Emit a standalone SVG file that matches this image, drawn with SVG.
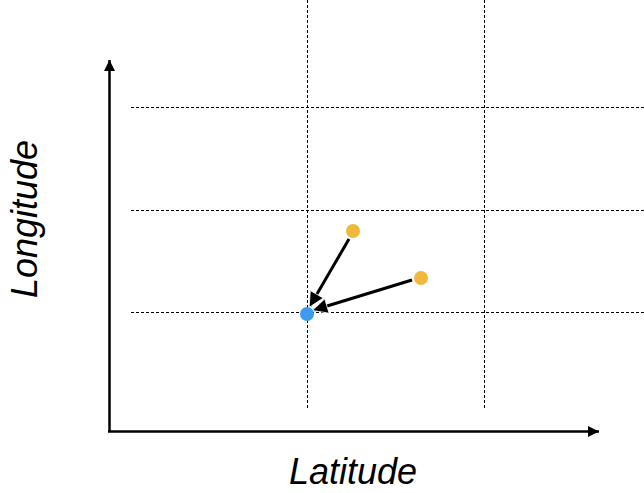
<svg xmlns="http://www.w3.org/2000/svg" width="644" height="493" viewBox="0 0 644 493">
<style>
.grid{stroke:#000;stroke-width:1;stroke-dasharray:3 2;fill:none}
.axis{stroke:#000;stroke-width:2.5;fill:none}
.conn{stroke:#000;stroke-width:3;fill:none}
.lbl{font-family:"Liberation Sans",Arial,sans-serif;font-style:italic;font-size:36px;fill:#000}
</style>
<defs>
<marker id="ah" viewBox="0 0 10 10" refX="9" refY="5" markerWidth="6" markerHeight="5" orient="auto" markerUnits="strokeWidth">
<path d="M0,0 L10,5 L0,10 z" fill="#000" stroke="#fff" stroke-width="0.5"/>
</marker>
<marker id="axh" viewBox="0 0 10 10" refX="10" refY="5" markerWidth="5.6" markerHeight="4.4" orient="auto" markerUnits="strokeWidth">
<path d="M0,0 L10,5 L0,10 z" fill="#000"/>
</marker>
</defs>
<rect width="644" height="493" fill="#fff"/>
<g id="grid">
<line class="grid" x1="131" y1="107.5" x2="644" y2="107.5"/>
<line class="grid" x1="131" y1="210.5" x2="644" y2="210.5"/>
<line class="grid" x1="131" y1="312.5" x2="644" y2="312.5"/>
<line class="grid" x1="307.5" y1="0" x2="307.5" y2="410"/>
<line class="grid" x1="484.5" y1="0" x2="484.5" y2="410"/>
</g>
<g id="axes">
<line class="axis" x1="109.5" y1="432" x2="109.5" y2="60" marker-end="url(#axh)"/>
<line class="axis" x1="108" y1="431.5" x2="599" y2="431.5" marker-end="url(#axh)"/>
</g>
<g id="connectors">
<line class="conn" x1="349" y1="239" x2="310" y2="306" marker-end="url(#ah)"/>
<line class="conn" x1="412" y1="280" x2="314" y2="310" marker-end="url(#ah)"/>
</g>
<g id="node-blue"><circle cx="307" cy="314" r="7" fill="#3C9BEF"/></g>
<g id="node-orange1"><circle cx="353" cy="231" r="7" fill="#F0B93C"/></g>
<g id="node-orange2"><circle cx="421" cy="278" r="7" fill="#F0B93C"/></g>
<g id="label-lat"><text class="lbl" x="353" y="484" text-anchor="middle">Latitude</text></g>
<g id="label-lon"><text class="lbl" transform="translate(37,219) rotate(-90)" text-anchor="middle">Longitude</text></g>
</svg>
